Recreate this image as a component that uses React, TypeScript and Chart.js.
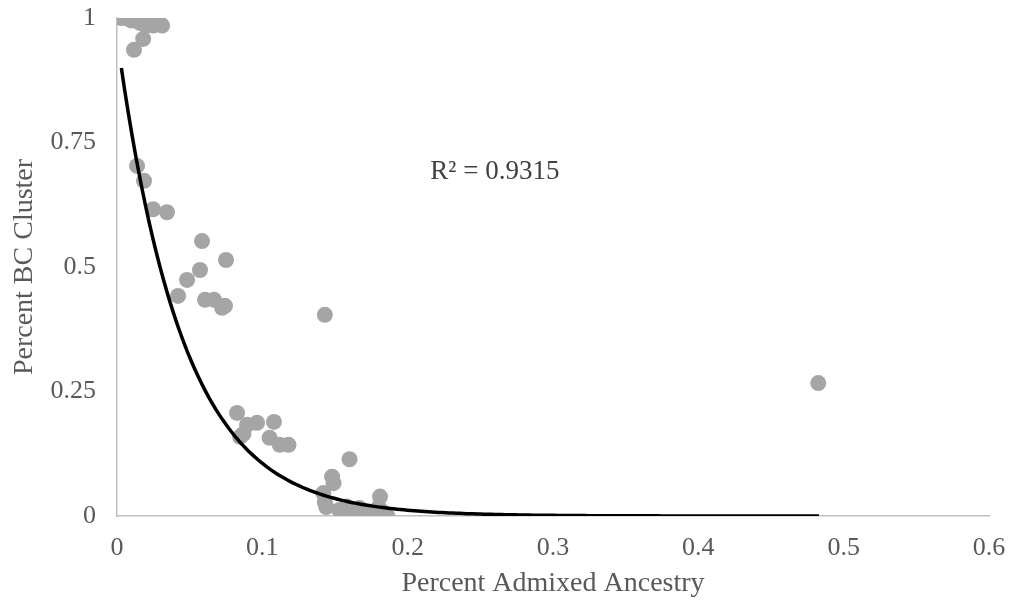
import React, { useEffect, useRef } from "react";
import { Chart, registerables } from "chart.js";

Chart.register(...registerables);

// Observed data: Percent Admixed Ancestry (x) vs Percent BC Cluster (y)
const admixedX: number[] = [
  0.003, 0.006, 0.009, 0.012, 0.015, 0.018, 0.021, 0.024, 0.010, 0.016, 0.020, 0.025, 0.029, 0.031,
  0.0117, 0.018,
  0.0138, 0.0186, 0.0248, 0.0344, 0.0585, 0.0571, 0.0482, 0.042, 0.0606, 0.0668, 0.0743, 0.075, 0.0723,
  0.143, 0.4825,
  0.0826, 0.0895, 0.0964, 0.108, 0.0847, 0.087, 0.105, 0.112, 0.118,
  0.160, 0.148, 0.149, 0.142, 0.143, 0.144, 0.153, 0.158, 0.160, 0.165, 0.167, 0.173, 0.181, 0.180,
  0.183, 0.186, 0.156, 0.164, 0.175, 0.179,
];
const bcClusterY: number[] = [
  1, 1, 1, 1, 1, 1, 1, 1, 0.995, 0.99, 0.985, 0.985, 0.99, 0.985,
  0.936, 0.958,
  0.703, 0.673, 0.616, 0.610, 0.552, 0.494, 0.474, 0.442, 0.434, 0.434, 0.422, 0.514, 0.418,
  0.404, 0.267,
  0.207, 0.183, 0.187, 0.189, 0.159, 0.165, 0.157, 0.143, 0.143,
  0.114, 0.079, 0.066, 0.046, 0.028, 0.018, 0.012, 0.019, 0.002, 0.009, 0.016, 0.008, 0.039, 0.018,
  0.008, 0.0, 0.0, 0.0, 0.004, 0.0,
];

// Exponential trendline y = A * exp(-B * x)
const TREND_A = 0.961;
const TREND_B = 22.07;
const TREND_X_START = 0.003;
const TREND_X_END = 0.483;
const TREND_STEPS = 200;
const R2_LABEL = "R² = 0.9315";

const X_TICKS = [0, 0.1, 0.2, 0.3, 0.4, 0.5, 0.6];
const Y_TICKS = [0, 0.25, 0.5, 0.75, 1];

const FONT = "'Liberation Serif', 'Times New Roman', serif";
const TEXT_COLOR = "#595959";

export default function App() {
  const canvasRef = useRef<HTMLCanvasElement | null>(null);

  useEffect(() => {
    document.body.style.margin = "0";
    const canvas = canvasRef.current;
    if (!canvas) return;

    const scatter = admixedX.map((x, i) => ({ x, y: bcClusterY[i] }));
    const trend: { x: number; y: number }[] = [];
    for (let i = 0; i <= TREND_STEPS; i++) {
      const x = TREND_X_START + ((TREND_X_END - TREND_X_START) * i) / TREND_STEPS;
      trend.push({ x, y: TREND_A * Math.exp(-TREND_B * x) });
    }

    const r2Plugin = {
      id: "r2label",
      afterDatasetsDraw(chart: any) {
        const { ctx, scales } = chart;
        ctx.save();
        ctx.font = `27px ${FONT}`;
        ctx.fillStyle = "#404040";
        ctx.textAlign = "center";
        ctx.textBaseline = "middle";
        ctx.fillText(R2_LABEL, scales.x.getPixelForValue(0.26), scales.y.getPixelForValue(0.69));
        ctx.restore();
      },
    };

    const chart = new Chart(canvas, {
      type: "scatter",
      data: {
        datasets: [
          {
            label: "Trend",
            type: "line",
            data: trend,
            borderColor: "#000000",
            borderWidth: 3.5,
            pointRadius: 0,
            fill: false,
            tension: 0,
            order: 0,
          } as any,
          {
            label: "Samples",
            data: scatter,
            backgroundColor: "#a5a5a5",
            borderWidth: 0,
            pointRadius: 8,
            pointHoverRadius: 8,
            order: 1,
          },
        ],
      },
      options: {
        animation: false,
        responsive: false,
        maintainAspectRatio: false,
        layout: { padding: { left: 0, top: 18, right: 21, bottom: 0 } },
        plugins: {
          legend: { display: false },
          tooltip: { enabled: false },
        },
        scales: {
          x: {
            type: "linear",
            min: 0,
            max: 0.6,
            afterBuildTicks: (s: any) => {
              s.ticks = X_TICKS.map((v) => ({ value: v }));
            },
            afterFit: (s: any) => {
              s.height = 89;
              s.paddingLeft = 0;
              s.paddingRight = 0;
            },
            ticks: {
              color: TEXT_COLOR,
              font: { family: FONT, size: 26 },
              padding: 17,
              maxRotation: 0,
              callback: (v: any) => String(v),
            },
            grid: { display: false, drawTicks: false },
            border: { display: true, color: "#bfbfbf", width: 1.5 },
            title: {
              display: true,
              text: "Percent Admixed Ancestry",
              color: TEXT_COLOR,
              font: { family: FONT, size: 28 },
              padding: 5,
            },
          },
          y: {
            type: "linear",
            min: 0,
            max: 1,
            afterBuildTicks: (s: any) => {
              s.ticks = Y_TICKS.map((v) => ({ value: v }));
            },
            afterFit: (s: any) => {
              s.width = 117;
              s.paddingTop = 0;
              s.paddingBottom = 0;
            },
            ticks: {
              color: TEXT_COLOR,
              font: { family: FONT, size: 26 },
              padding: 21,
              callback: (v: any) => String(v),
            },
            grid: { display: false, drawTicks: false },
            border: { display: true, color: "#bfbfbf", width: 1.5 },
            title: {
              display: true,
              text: "Percent BC Cluster",
              color: TEXT_COLOR,
              font: { family: FONT, size: 28 },
              padding: 8,
            },
          },
        },
      },
      plugins: [r2Plugin],
    });

    return () => chart.destroy();
  }, []);

  return (
    <div style={{ width: 1010, height: 605, background: "#ffffff" }}>
      <canvas ref={canvasRef} width={1010} height={605} style={{ display: "block" }} />
    </div>
  );
}
